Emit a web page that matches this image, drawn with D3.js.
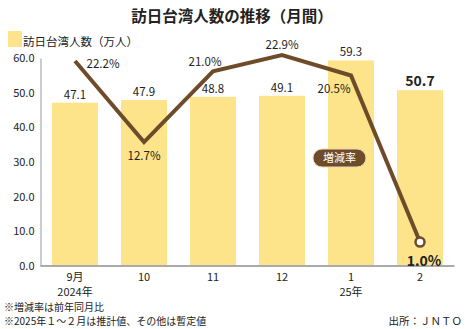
<!DOCTYPE html>
<html><head><meta charset="utf-8">
<script src="https://cdn.jsdelivr.net/npm/d3@7"></script>
<style>
body{margin:0;background:#fff;}
text{font-family:"Noto Sans CJK JP","Noto Sans",sans-serif;}
</style></head>
<body><svg id="c" width="465" height="329"></svg>
<script>
const months = ["9月","10","11","12","1","2"];
const yearLabels = ["2024年","","","","25年",""];
const visitors = [47.1, 47.9, 48.8, 49.1, 59.3, 50.7];
const growth = [22.2, 12.7, 21.0, 22.9, 20.5, 1.0];
const yTicks = [0,10,20,30,40,50,60];

(function(){
const svg = d3.select("#c");
const pLeft=40.5,pRight=454.5,pTop=58,pBottom=266;
const barColor="#fde38a", lineColor="#6f4c29";
const numFont="'DejaVu Sans Condensed','Noto Sans CJK JP',sans-serif";

const x = d3.scaleBand().domain(months).range([pLeft,pRight]).paddingInner(0.333).paddingOuter(0.1665);
const y = d3.scaleLinear().domain([0,60]).range([pBottom,pTop]);
const y2 = d3.scaleLinear().domain([-1.8,22.55]).range([pBottom,pTop]);

svg.append("text").attr("x",232).attr("y",22).attr("text-anchor","middle")
  .attr("font-size",15.5).attr("font-weight","bold").attr("fill","#222").text("訪日台湾人数の推移（月間）");

svg.append("rect").attr("x",8).attr("y",31).attr("width",14).attr("height",16).attr("fill",barColor);
svg.append("text").attr("x",23).attr("y",46).attr("font-size",11.5).attr("fill","#222").text("訪日台湾人数（万人）");

svg.selectAll(".bar").data(visitors).enter().append("rect")
  .attr("x",(d,i)=>x(months[i])).attr("width",x.bandwidth())
  .attr("y",d=>y(d)).attr("height",d=>y(0)-y(d)).attr("fill",barColor);

const yAxis = d3.axisLeft(y).tickValues(yTicks).tickFormat(d3.format(".1f")).tickSize(0).tickPadding(6);
const ga = svg.append("g").attr("transform",`translate(${pLeft},0)`).call(yAxis);
ga.select(".domain").attr("stroke","#999").attr("stroke-width",1);
ga.selectAll("text").attr("font-size",11).attr("fill","#222").attr("font-family",numFont);

const xAxis = d3.axisBottom(x).tickSize(0).tickPadding(6);
const gx = svg.append("g").attr("transform",`translate(0,${pBottom})`).call(xAxis);
gx.select(".domain").attr("stroke","#aaa").attr("stroke-width",2).attr("d",`M${pLeft},0H${pRight}`);
gx.selectAll("text").attr("font-size",11).attr("fill","#222").attr("dy","0.85em");
svg.selectAll(".yr").data(yearLabels).enter().append("text")
  .attr("x",(d,i)=>x(months[i])+x.bandwidth()/2).attr("y",296).attr("text-anchor","middle")
  .attr("font-size",11).attr("fill","#222").text(d=>d);

svg.selectAll(".bl").data(visitors).enter().append("text")
  .attr("x",(d,i)=>x(months[i])+x.bandwidth()/2)
  .attr("y",d=>y(d)-4).attr("text-anchor","middle")
  .attr("font-size",(d,i)=>i===5?14:11.5).attr("font-weight",(d,i)=>i===5?"bold":"normal")
  .attr("fill","#222").attr("font-family",numFont)
  .text(d=>d.toFixed(1));

const cx = i=>x(months[i])+x.bandwidth()/2;
const line = d3.line().x((d,i)=>cx(i)).y(d=>y2(d));
svg.append("path").datum(growth).attr("d",line).attr("fill","none")
  .attr("stroke",lineColor).attr("stroke-width",4).attr("stroke-linejoin","miter");
svg.append("circle").attr("cx",cx(5)).attr("cy",y2(growth[5])).attr("r",4.5)
  .attr("fill","#fff").attr("stroke",lineColor).attr("stroke-width",2.5);

const gOff = [[28,4],[0,15],[-8,-8],[0,-9],[-17,14],[4,20]];
svg.selectAll(".gl").data(growth).enter().append("text")
  .attr("x",(d,i)=>cx(i)+gOff[i][0]).attr("y",(d,i)=>y2(d)+gOff[i][1])
  .attr("text-anchor","middle").attr("dominant-baseline","middle")
  .attr("font-size",(d,i)=>i===5?14:11.5).attr("font-weight",(d,i)=>i===5?"bold":"normal")
  .attr("fill","#222").attr("font-family",numFont)
  .text(d=>d.toFixed(1)+"%");

svg.append("rect").attr("x",313).attr("y",149).attr("width",53).attr("height",18).attr("rx",9)
  .attr("fill",lineColor).attr("stroke","#e9d8b8").attr("stroke-width",1);
svg.append("text").attr("x",339.5).attr("y",162).attr("text-anchor","middle")
  .attr("font-size",11).attr("fill","#fff").text("増減率");

svg.append("text").attr("x",4).attr("y",311).attr("font-size",10).attr("fill","#222").text("※増減率は前年同月比");
svg.append("text").attr("x",4).attr("y",325).attr("font-size",10).attr("fill","#222").text("※2025年１～２月は推計値、その他は暫定値");
svg.append("text").attr("x",462).attr("y",325).attr("text-anchor","end").attr("font-size",10.5).attr("fill","#222").text("出所：ＪＮＴＯ");
})();
</script></body></html>
